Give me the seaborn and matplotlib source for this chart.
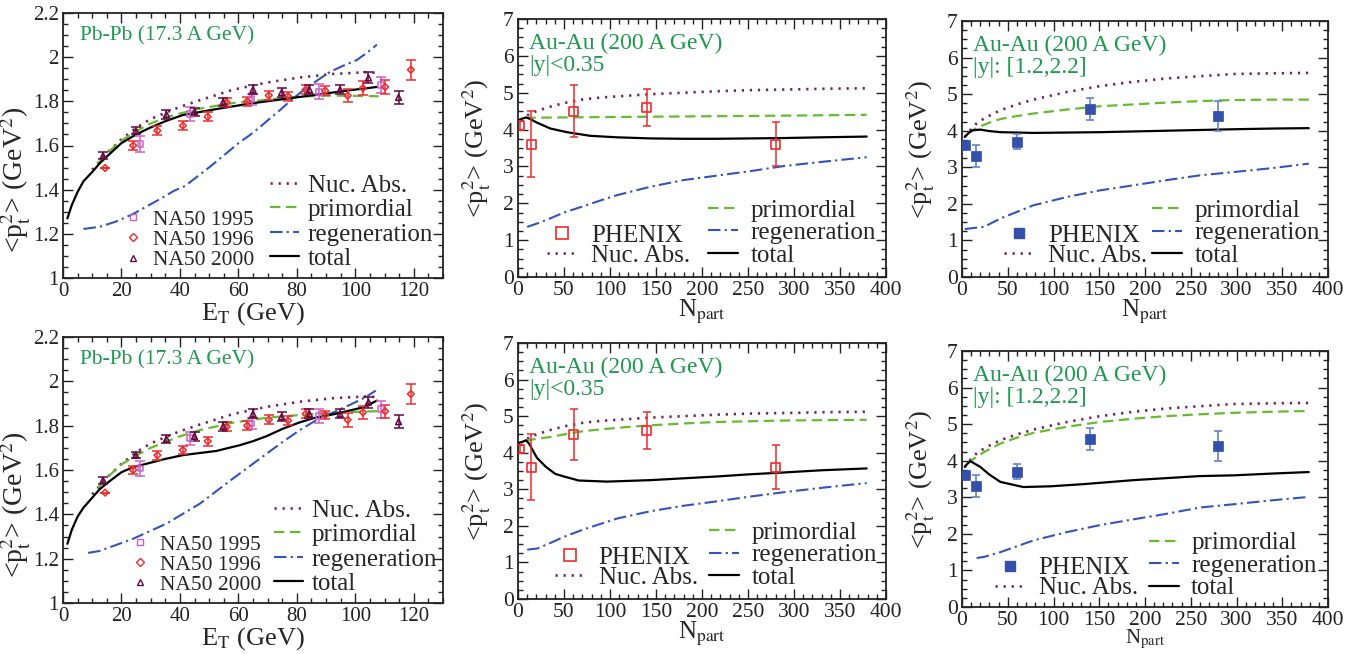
import numpy as np
import pandas as pd
import matplotlib
matplotlib.use("Agg")
import matplotlib.pyplot as plt
import seaborn as sns
from matplotlib.lines import Line2D
from matplotlib.ticker import MultipleLocator

sns.set_style("ticks")
plt.rcParams["font.family"] = ["Liberation Serif", "DejaVu Serif"]
plt.rcParams["mathtext.fontset"] = "stix"
plt.rcParams["lines.scale_dashes"] = False

# ---------------- data: SPS Pb-Pb (E_T in GeV) ----------------
na50_1995_x = [26.5, 43.6, 64.5, 87.7, 108.8]
na50_1995_y = [1.607, 1.743, 1.81, 1.844, 1.874]
na50_1995_e = [0.035, 0.03, 0.025, 0.033, 0.038]

na50_1996_x = [14.4, 24, 32.3, 41, 49.5, 56, 63, 70.4, 77, 83, 89.7, 97.4, 102.6, 110.2, 119]
na50_1996_y = [1.498, 1.60, 1.667, 1.69, 1.73, 1.795, 1.80, 1.827, 1.823, 1.853, 1.848, 1.826, 1.86, 1.865, 1.943]
na50_1996_e = [0.0, 0.02, 0.02, 0.02, 0.02, 0.02, 0.02, 0.02, 0.02, 0.02, 0.02, 0.03, 0.03, 0.03, 0.045]

na50_2000_x = [13.7, 24.9, 35.4, 45, 54.8, 65, 74.8, 84.3, 94.8, 104.5, 114.8]
na50_2000_y = [1.554, 1.667, 1.74, 1.752, 1.797, 1.853, 1.84, 1.853, 1.853, 1.906, 1.818]
na50_2000_e = [0.015, 0.015, 0.02, 0.02, 0.02, 0.02, 0.02, 0.02, 0.02, 0.025, 0.03]

sps_nuc_x = [10, 15, 20, 25, 30, 35.4, 40, 46.8, 58, 69.7, 81, 92.5, 104, 108]
sps_nuc_y = [1.49, 1.565, 1.628, 1.68, 1.72, 1.75, 1.775, 1.805, 1.852, 1.885, 1.908, 1.924, 1.932, 1.928]

# top row (set 1)
sps1_prim_x = [12, 15, 20, 25, 30, 35.4, 40, 46.8, 52.6, 58, 69.7, 81, 92.5, 104, 108]
sps1_prim_y = [1.52, 1.565, 1.622, 1.665, 1.70, 1.727, 1.745, 1.767, 1.78, 1.792, 1.807, 1.822, 1.826, 1.824, 1.823]
sps1_tot_x = [1.5, 3, 5, 7, 10, 12.6, 15, 20, 25, 29.7, 35, 41, 52.5, 64, 75.4, 86.8, 98, 107.4]
sps1_tot_y = [1.27, 1.33, 1.39, 1.438, 1.48, 1.52, 1.55, 1.611, 1.65, 1.68, 1.71, 1.738, 1.765, 1.79, 1.81, 1.83, 1.85, 1.865]
sps1_reg_x = [7, 12.6, 18, 24, 27.5, 33, 38, 41.8, 46, 50.3, 55, 60, 64, 67.5, 71, 74.3, 78,
              82.3, 87, 91.4, 96, 100.5, 104, 107.4]
sps1_reg_y = [1.222, 1.232, 1.255, 1.29, 1.316, 1.356, 1.395, 1.417, 1.46, 1.504, 1.555, 1.61, 1.648,
              1.685, 1.725, 1.761, 1.805, 1.851, 1.895, 1.934, 1.962, 1.987, 2.02, 2.057]

# bottom row (set 2)
sps2_prim_x = [12, 15, 20, 25, 30, 35.4, 40, 46.8, 58, 69.7, 81, 92.5, 104, 108]
sps2_prim_y = [1.52, 1.565, 1.625, 1.665, 1.70, 1.728, 1.752, 1.78, 1.813, 1.836, 1.848, 1.858, 1.864, 1.865]
sps2_tot_x = [1.5, 3, 5, 7, 10, 12.6, 15, 20, 24, 29.7, 35, 41, 47, 52.5, 60.5, 65, 69.7, 75, 81,
              86, 92, 97, 102.8, 107.4]
sps2_tot_y = [1.267, 1.33, 1.39, 1.43, 1.475, 1.514, 1.54, 1.59, 1.613, 1.632, 1.65, 1.667, 1.677,
              1.686, 1.712, 1.73, 1.753, 1.785, 1.815, 1.835, 1.85, 1.865, 1.883, 1.913]
sps2_reg_x = [8.6, 12.6, 24, 35.4, 46.8, 58, 69.7, 75, 81, 86.8, 92.5, 98, 103, 107]
sps2_reg_y = [1.226, 1.235, 1.29, 1.358, 1.448, 1.56, 1.674, 1.725, 1.78, 1.826, 1.86, 1.893, 1.925, 1.958]

# ---------------- data: RHIC Au-Au mid rapidity ----------------
phx_mid_x = [1.8, 14.5, 60.5, 140, 280]
phx_mid_y = [4.1, 3.6, 4.5, 4.6, 3.6]
phx_mid_e = [0.12, 0.9, 0.7, 0.5, 0.6]

mid_nuc_x = [10, 13.4, 25, 35, 50, 71, 90, 107.6, 144, 180, 216, 252, 300, 340, 379]
mid_nuc_y = [4.38, 4.44, 4.54, 4.62, 4.72, 4.82, 4.87, 4.9, 4.96, 5.0, 5.04, 5.07, 5.09, 5.11, 5.12]

mid1_prim_x = [8, 50, 100, 150, 200, 250, 300, 379]
mid1_prim_y = [4.32, 4.33, 4.34, 4.35, 4.36, 4.37, 4.38, 4.40]
mid1_tot_x = [1, 3, 5, 8.7, 12, 20.6, 35, 53, 78.6, 107.6, 144, 180, 216, 252, 289, 330, 379]
mid1_tot_y = [4.26, 4.28, 4.3, 4.33, 4.3, 4.19, 4.03, 3.93, 3.83, 3.79, 3.76, 3.75, 3.75, 3.76, 3.77, 3.79, 3.81]
mid1_reg_x = [10, 20.6, 35, 50, 71, 90, 107.6, 144, 180, 216, 252, 289, 325, 379]
mid1_reg_y = [1.36, 1.45, 1.59, 1.75, 1.92, 2.08, 2.22, 2.45, 2.63, 2.75, 2.87, 3.01, 3.11, 3.25]

mid2_prim_x = [8, 20, 35, 50, 71, 107.6, 144, 180, 216, 252, 289, 330, 379]
mid2_prim_y = [4.33, 4.38, 4.43, 4.5, 4.59, 4.68, 4.75, 4.8, 4.84, 4.86, 4.88, 4.89, 4.9]
mid2_tot_x = [1, 5, 8.7, 12, 20.6, 30, 40.6, 50, 66, 96.7, 144, 180, 216, 252, 289, 330, 379]
mid2_tot_y = [4.27, 4.3, 4.34, 4.25, 3.86, 3.62, 3.42, 3.35, 3.24, 3.21, 3.25, 3.3, 3.35, 3.41, 3.46, 3.52, 3.57]
mid2_reg_x = [10, 21, 35, 50, 71, 107.6, 144, 180, 216, 252, 289, 330, 379]
mid2_reg_y = [1.35, 1.38, 1.53, 1.7, 1.9, 2.2, 2.4, 2.55, 2.67, 2.8, 2.92, 3.04, 3.17]

# ---------------- data: RHIC Au-Au forward rapidity ----------------
phx_fwd_x = [3.6, 15.3, 60, 140, 280]
phx_fwd_y = [3.6, 3.3, 3.7, 4.6, 4.4]
phx_fwd_e = [0.1, 0.3, 0.2, 0.3, 0.4]

fwd_nuc_x = [3, 10, 16, 25, 42, 60, 78, 115, 151, 188, 224, 260, 297, 340, 379]
fwd_nuc_y = [3.83, 4.05, 4.2, 4.35, 4.56, 4.72, 4.85, 5.06, 5.22, 5.34, 5.43, 5.49, 5.55, 5.57, 5.58]

fwd1_prim_x = [6, 11, 20, 30, 42, 60, 78, 115, 151, 188, 224, 260, 297, 340, 379]
fwd1_prim_y = [3.92, 4.01, 4.12, 4.22, 4.32, 4.4, 4.47, 4.58, 4.67, 4.72, 4.77, 4.81, 4.84, 4.85, 4.85]
fwd1_tot_x = [3, 7, 11, 20, 30, 42, 60, 78, 115, 151, 188, 224, 260, 297, 340, 379]
fwd1_tot_y = [3.83, 3.93, 4.01, 4.03, 3.99, 3.96, 3.95, 3.94, 3.95, 3.96, 3.98, 4.0, 4.02, 4.04, 4.06, 4.07]
fwd1_reg_x = [3, 16, 24, 42, 60, 78, 115, 151, 188, 224, 260, 297, 340, 379]
fwd1_reg_y = [1.31, 1.35, 1.37, 1.6, 1.78, 1.96, 2.19, 2.37, 2.51, 2.65, 2.78, 2.87, 2.98, 3.10]

fwd2_prim_x = [6, 13, 25, 42, 60, 78, 115, 151, 188, 224, 260, 297, 340, 379]
fwd2_prim_y = [3.92, 4.06, 4.25, 4.47, 4.63, 4.76, 4.93, 5.06, 5.15, 5.22, 5.27, 5.31, 5.34, 5.36]
fwd2_tot_x = [3, 6, 9, 20, 30, 42, 67, 96.5, 133, 188, 260, 297, 340, 379]
fwd2_tot_y = [3.83, 3.92, 3.99, 3.83, 3.62, 3.42, 3.28, 3.30, 3.36, 3.47, 3.58, 3.6, 3.65, 3.69]
fwd2_reg_x = [16, 24, 42, 60, 78, 115, 151, 188, 224, 260, 297, 340, 379]
fwd2_reg_y = [1.34, 1.37, 1.5, 1.66, 1.82, 2.05, 2.24, 2.4, 2.55, 2.72, 2.81, 2.92, 3.01]

curve_labels = ["Nuc. Abs.", "primordial", "regeneration", "total"]

# ---------------- styles ----------------
C_NUC = "#7a1f5c"
C_PRIM = "#66bb33"
C_REG = "#3355bb"
C_TOT = "black"
C_TXT = "#1f9950"
C_RED = "#ee2b2b"
C_MAG = "#cc5fcc"
C_PUR = "#650840"
C_BLUE = "#3350aa"

LS = {"nuc": (0, (1.6, 4.2)), "prim": (0, (7.5, 4)), "reg": (0, (9, 3, 1.6, 3)), "tot": "-"}
LW = {"nuc": 1.9, "prim": 1.6, "reg": 1.5, "tot": 1.6}
COL = {"nuc": C_NUC, "prim": C_PRIM, "reg": C_REG, "tot": C_TOT}

W, H = 1365, 654
fig = plt.figure(figsize=(W / 100, H / 100), dpi=100)


def add_ax(l, r, t, b):
    return fig.add_axes([l / W, 1 - b / H, (r - l) / W, (b - t) / H])


def curve(ax, x, y, key):
    sns.lineplot(x=x, y=y, ax=ax, color=COL[key], linestyle=LS[key], linewidth=LW[key],
                 estimator=None, sort=False, dash_capstyle="butt")


def handle(key):
    return Line2D([], [], color=COL[key], linestyle=LS[key], linewidth=LW[key], dash_capstyle="butt")


def style_axes(ax, xmaj, xmin, ymaj, ymin, fs):
    ax.tick_params(which="both", direction="in", top=True, right=True, labelsize=fs,
                   width=1.0, colors="#222222", pad=3)
    ax.tick_params(which="major", length=7)
    ax.tick_params(which="minor", length=3.5)
    ax.xaxis.set_major_locator(MultipleLocator(xmaj))
    ax.xaxis.set_minor_locator(MultipleLocator(xmin))
    ax.yaxis.set_major_locator(MultipleLocator(ymaj))
    ax.yaxis.set_minor_locator(MultipleLocator(ymin))
    for s in ax.spines.values():
        s.set_linewidth(1.3)
        s.set_color("#222222")


def sps_panel(ax, prim_x, prim_y, tot_x, tot_y, reg_x, reg_y, leg_a, leg_b):
    curve(ax, sps_nuc_x, sps_nuc_y, "nuc")
    curve(ax, prim_x, prim_y, "prim")
    curve(ax, reg_x, reg_y, "reg")
    curve(ax, tot_x, tot_y, "tot")
    sets = [(na50_1995_x, na50_1995_y, na50_1995_e, C_MAG, "s", "NA50 1995"),
            (na50_1996_x, na50_1996_y, na50_1996_e, C_RED, "D", "NA50 1996"),
            (na50_2000_x, na50_2000_y, na50_2000_e, C_PUR, "^", "NA50 2000")]
    hs = []
    for x, y, e, c, m, lab in sets:
        ax.errorbar(x, y, yerr=e, fmt="none", ecolor=c, elinewidth=1.1, capsize=3.6, capthick=1.1)
        sns.scatterplot(x=x, y=y, ax=ax, marker=m, s=18 if m != "D" else 12, facecolor="none",
                        edgecolor=c, linewidth=1.1, zorder=5)
        hs.append(Line2D([], [], marker=m, color=c, markerfacecolor="none",
                         markersize=4.5 if m != "D" else 3.8, markeredgewidth=1.0, linestyle="none"))
    ax.set_xlim(0, 130)
    ax.set_ylim(1.0, 2.2)
    style_axes(ax, 20, 5, 0.2, 0.05, 15)
    ax.set_yticks([1.0, 1.2, 1.4, 1.6, 1.8, 2.0, 2.2])
    ax.set_yticklabels(["1", "1.2", "1.4", "1.6", "1.8", "2", "2.2"])
    leg1 = ax.legend(hs, ["NA50 1995", "NA50 1996", "NA50 2000"], loc="lower left",
                     bbox_to_anchor=leg_a, frameon=False, fontsize=15.5, handlelength=0.95,
                     handletextpad=0.45, labelspacing=0.0, borderpad=0, borderaxespad=0)
    ax.add_artist(leg1)
    ax.legend([handle(k) for k in ["nuc", "prim", "reg", "tot"]], curve_labels, loc="lower left",
              bbox_to_anchor=leg_b, frameon=False, fontsize=18, handlelength=1.15,
              handletextpad=0.36, labelspacing=0.08, borderpad=0, borderaxespad=0)
    ax.text(0.045, 0.915, "Pb-Pb (17.3 A GeV)", transform=ax.transAxes, color=C_TXT,
            fontsize=15.5, va="center", ha="left")
    ax.set_xlabel("E$_\\mathrm{T}$ (GeV)", fontsize=19)
    ax.set_ylabel("<p$_\\mathrm{t}^2$> (GeV$^2$)", fontsize=20)
    ax.xaxis.set_label_coords(0.5, -0.085)
    ax.yaxis.set_label_coords(-0.08, 0.37)


def rhic_panel(ax, px, py, pe, filled, nuc_x, nuc_y, prim_x, prim_y, tot_x, tot_y, reg_x, reg_y,
               line2, leg_a, leg_b, xlab_fs):
    curve(ax, nuc_x, nuc_y, "nuc")
    curve(ax, prim_x, prim_y, "prim")
    curve(ax, reg_x, reg_y, "reg")
    curve(ax, tot_x, tot_y, "tot")
    if filled:
        c = C_BLUE
        ax.errorbar(px, py, yerr=pe, fmt="none", ecolor="#6680cc", elinewidth=1.2, capsize=3.2, capthick=1.2)
        sns.scatterplot(x=px, y=py, ax=ax, marker="s", s=50, color=c, edgecolor=c, linewidth=0.5, zorder=5)
        h = Line2D([], [], marker="s", color=c, markersize=7, linestyle="none")
    else:
        c = C_RED
        ax.errorbar(px, py, yerr=pe, fmt="none", ecolor=c, elinewidth=1.1, capsize=3.2, capthick=1.1)
        sns.scatterplot(x=px, y=py, ax=ax, marker="s", s=40, facecolor="none", edgecolor=c,
                        linewidth=1.2, zorder=5)
        h = Line2D([], [], marker="s", color=c, markerfacecolor="none", markersize=8.5,
                   markeredgewidth=1.2, linestyle="none")
    ax.set_xlim(0, 400)
    ax.set_ylim(0, 7)
    style_axes(ax, 50, 10, 1, 0.25, 15.5)
    leg1 = ax.legend([h, handle("nuc")], ["PHENIX", "Nuc. Abs."], loc="lower left",
                     bbox_to_anchor=leg_a, frameon=False, fontsize=18, handlelength=1.2,
                     handletextpad=0.55, labelspacing=-0.1, borderpad=0, borderaxespad=0)
    ax.add_artist(leg1)
    ax.legend([handle(k) for k in ["prim", "reg", "tot"]], curve_labels[1:], loc="lower left",
              bbox_to_anchor=leg_b, frameon=False, fontsize=18, handlelength=1.2,
              handletextpad=0.5, labelspacing=0.0, borderpad=0, borderaxespad=0)
    ax.text(0.03, 0.905, "Au-Au (200 A GeV)", transform=ax.transAxes, color=C_TXT,
            fontsize=17, va="center", ha="left")
    ax.text(0.03, 0.818, line2, transform=ax.transAxes, color=C_TXT,
            fontsize=17, va="center", ha="left")
    ax.set_xlabel("N$_\\mathrm{part}$", fontsize=xlab_fs)
    ax.set_ylabel("<p$_\\mathrm{t}^2$> (GeV$^2$)", fontsize=19)
    ax.xaxis.set_label_coords(0.5, -0.08)
    ax.yaxis.set_label_coords(-0.068, 0.5)


ax_tl = add_ax(63, 443, 13, 278)
ax_tm = add_ax(518, 886, 19, 277)
ax_tr = add_ax(962, 1328, 21, 277)
ax_bl = add_ax(63, 443, 337, 603)
ax_bm = add_ax(518, 886, 343, 599)
ax_br = add_ax(962, 1328, 351, 607)

sps_panel(ax_tl, sps1_prim_x, sps1_prim_y, sps1_tot_x, sps1_tot_y, sps1_reg_x, sps1_reg_y,
          (0.158, 0.03), (0.545, 0.03))
sps_panel(ax_bl, sps2_prim_x, sps2_prim_y, sps2_tot_x, sps2_tot_y, sps2_reg_x, sps2_reg_y,
          (0.176, 0.03), (0.555, 0.03))

rhic_panel(ax_tm, phx_mid_x, phx_mid_y, phx_mid_e, False, mid_nuc_x, mid_nuc_y,
           mid1_prim_x, mid1_prim_y, mid1_tot_x, mid1_tot_y, mid1_reg_x, mid1_reg_y,
           "|y|<0.35", (0.08, 0.04), (0.516, 0.04), 18)
rhic_panel(ax_bm, phx_mid_x, phx_mid_y, phx_mid_e, False, mid_nuc_x, mid_nuc_y,
           mid2_prim_x, mid2_prim_y, mid2_tot_x, mid2_tot_y, mid2_reg_x, mid2_reg_y,
           "|y|<0.35", (0.1, 0.04), (0.519, 0.04), 18)
rhic_panel(ax_tr, phx_fwd_x, phx_fwd_y, phx_fwd_e, True, fwd_nuc_x, fwd_nuc_y,
           fwd1_prim_x, fwd1_prim_y, fwd1_tot_x, fwd1_tot_y, fwd1_reg_x, fwd1_reg_y,
           "|y|: [1.2,2.2]", (0.115, 0.04), (0.519, 0.04), 18)
rhic_panel(ax_br, phx_fwd_x, phx_fwd_y, phx_fwd_e, True, fwd_nuc_x, fwd_nuc_y,
           fwd2_prim_x, fwd2_prim_y, fwd2_tot_x, fwd2_tot_y, fwd2_reg_x, fwd2_reg_y,
           "|y|: [1.2,2.2]", (0.09, 0.03), (0.51, 0.03), 15)

fig.savefig("out.png", dpi=100)
